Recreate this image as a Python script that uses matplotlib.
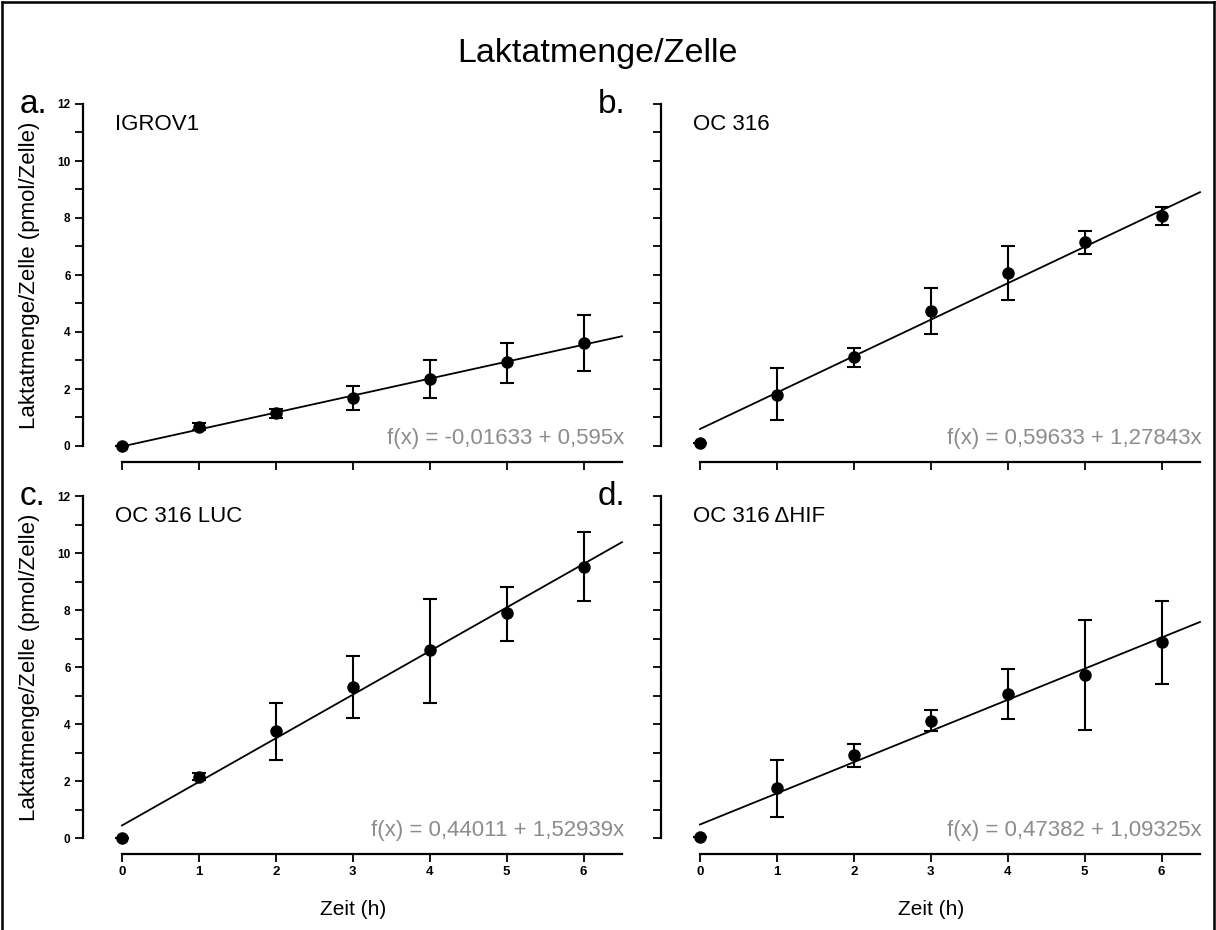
import numpy as np
import matplotlib
matplotlib.use('Agg')
import matplotlib.pyplot as plt
from matplotlib.ticker import MultipleLocator
from matplotlib.lines import Line2D

plt.rcParams['font.family'] = ['Liberation Sans', 'DejaVu Sans']

zeit = [0, 1, 2, 3, 4, 5, 6]

# mean values per panel, lower / upper error
igrov1 = [0.0, 0.67, 1.15, 1.70, 2.35, 2.95, 3.62]
igrov1_lo = [0.0, 0.12, 0.18, 0.45, 0.65, 0.75, 1.00]
igrov1_hi = [0.0, 0.12, 0.15, 0.42, 0.65, 0.67, 0.96]

oc316 = [0.10, 1.80, 3.12, 4.75, 6.07, 7.15, 8.07]
oc316_lo = [0.0, 0.90, 0.34, 0.82, 0.95, 0.40, 0.32]
oc316_hi = [0.0, 0.92, 0.33, 0.80, 0.93, 0.40, 0.31]

oc316luc = [0.0, 2.15, 3.75, 5.30, 6.58, 7.88, 9.52]
oc316luc_lo = [0.0, 0.12, 1.03, 1.08, 1.85, 0.98, 1.22]
oc316luc_hi = [0.0, 0.12, 1.00, 1.08, 1.82, 0.94, 1.20]

oc316hif = [0.05, 1.75, 2.92, 4.12, 5.05, 5.72, 6.88]
oc316hif_lo = [0.0, 1.02, 0.42, 0.37, 0.87, 1.94, 1.48]
oc316hif_hi = [0.0, 1.00, 0.38, 0.36, 0.87, 1.93, 1.44]

names = ['IGROV1', 'OC 316', 'OC 316 LUC', 'OC 316 \u0394HIF']
letters = ['a.', 'b.', 'c.', 'd.']
intercepts = [-0.01633, 0.59633, 0.44011, 0.47382]
slopes = [0.595, 1.27843, 1.52939, 1.09325]
fit_labels = ['f(x) = -0,01633 + 0,595x', 'f(x) = 0,59633 + 1,27843x',
              'f(x) = 0,44011 + 1,52939x', 'f(x) = 0,47382 + 1,09325x']

means = [igrov1, oc316, oc316luc, oc316hif]
lows = [igrov1_lo, oc316_lo, oc316luc_lo, oc316hif_lo]
highs = [igrov1_hi, oc316_hi, oc316luc_hi, oc316hif_hi]

W, H = 1216, 930
fig = plt.figure(figsize=(W / 100, H / 100), dpi=100)

# axes boxes in pixels: left, top (of y=12), right (x=6.5), bottom (y=0)
boxes = [(122, 104, 622, 446), (700, 104, 1200, 446),
         (122, 496, 622, 838), (700, 496, 1200, 838)]

for i, (l, t, r, b) in enumerate(boxes):
    ax = fig.add_axes([l / W, 1 - b / H, (r - l) / W, (b - t) / H])
    x = np.array(zeit)
    ax.errorbar(x, means[i], yerr=[lows[i], highs[i]], fmt='o', color='black',
                markersize=8, elinewidth=1.5, capsize=5, capthick=1.5,
                clip_on=False, zorder=3)
    xs = np.array([0, 6.5])
    ax.plot(xs, intercepts[i] + slopes[i] * xs, color='black', lw=1.3, clip_on=False)

    ax.set_xlim(0, 6.5)
    ax.set_ylim(0, 12)
    for s in ['top', 'right']:
        ax.spines[s].set_visible(False)
    ax.spines['left'].set_position(('outward', 28))
    ax.spines['bottom'].set_position(('outward', 11.5))
    ax.spines['left'].set_linewidth(1.6)
    ax.spines['bottom'].set_linewidth(1.6)
    ax.yaxis.set_major_locator(MultipleLocator(2))
    ax.yaxis.set_minor_locator(MultipleLocator(1))
    ax.xaxis.set_major_locator(MultipleLocator(1))
    ax.tick_params(axis='both', which='both', direction='out', width=1.3, length=6)
    ax.tick_params(axis='y', which='major', labelsize=8.5, pad=3)
    ax.tick_params(axis='x', which='major', labelsize=9.5, pad=3)
    for lab in ax.get_xticklabels() + ax.get_yticklabels():
        lab.set_fontweight('bold')

    if i % 2 == 1:
        ax.tick_params(axis='y', labelcolor='white')
    else:
        ax.set_ylabel('Laktatmenge/Zelle (pmol/Zelle)', fontsize=16)
        ax.yaxis.set_label_coords((40 - l) / (r - l), 0.5)
    if i < 2:
        ax.tick_params(axis='x', labelcolor='white')
    else:
        ax.set_xlabel('Zeit (h)', fontsize=15)
        ax.xaxis.set_label_coords(3 / 6.5, (b - 900) / (b - t))

    fig.text((l - 102) / W, 1 - (t + 9) / H, letters[i], fontsize=24, va='baseline', ha='left')
    fig.text((l - 7) / W, 1 - (t + 26) / H, names[i], fontsize=16, va='baseline', ha='left')
    fig.text((r + 2) / W, 1 - (b - 2) / H, fit_labels[i], fontsize=16, color='#8c8c8c',
             va='baseline', ha='right')

fig.text(597 / W, 1 - 62 / H, 'Laktatmenge/Zelle', fontsize=24.5, ha='center', va='baseline')

# frame around the figure
for xy in [([0.002, 0.002], [0, 0.998]), ([0.002, 0.998], [0.998, 0.998]),
           ([0.998, 0.998], [0.998, 0])]:
    fig.add_artist(Line2D(xy[0], xy[1], color='black', lw=1.8, transform=fig.transFigure))

fig.savefig('out.png', dpi=100)
